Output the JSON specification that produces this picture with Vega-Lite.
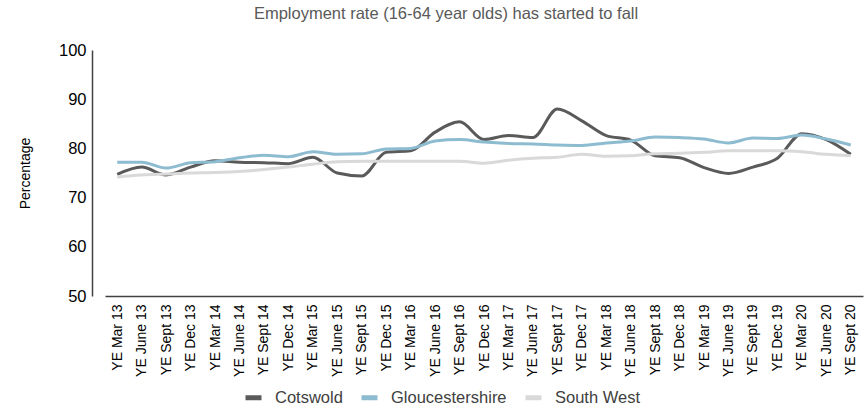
{
  "$schema": "https://vega.github.io/schema/vega-lite/v6.json",
  "autosize": {"type": "none"},
  "padding": {"left": 92, "top": 50, "right": 0, "bottom": 111},
  "width": 776,
  "height": 246,
  "background": "white",
  "title": {
    "text": "Employment rate (16-64 year olds) has started to fall",
    "font": "Liberation Sans",
    "fontSize": 16.5,
    "fontWeight": "normal",
    "color": "#595959",
    "anchor": "middle",
    "dx": -34,
    "offset": 20
  },
  "data": {
    "values": [
      {"period": "YE Mar 13", "Cotswold": 74.7, "Gloucestershire": 77.2, "South West": 74.2},
      {"period": "YE June 13", "Cotswold": 76.2, "Gloucestershire": 77.2, "South West": 74.6},
      {"period": "YE Sept 13", "Cotswold": 74.6, "Gloucestershire": 76.0, "South West": 74.8},
      {"period": "YE Dec 13", "Cotswold": 76.2, "Gloucestershire": 77.1, "South West": 75.0},
      {"period": "YE Mar 14", "Cotswold": 77.5, "Gloucestershire": 77.3, "South West": 75.1},
      {"period": "YE June 14", "Cotswold": 77.2, "Gloucestershire": 78.1, "South West": 75.3},
      {"period": "YE Sept 14", "Cotswold": 77.1, "Gloucestershire": 78.6, "South West": 75.7},
      {"period": "YE Dec 14", "Cotswold": 76.9, "Gloucestershire": 78.3, "South West": 76.2},
      {"period": "YE Mar 15", "Cotswold": 78.2, "Gloucestershire": 79.3, "South West": 76.8},
      {"period": "YE June 15", "Cotswold": 75.0, "Gloucestershire": 78.8, "South West": 77.3},
      {"period": "YE Sept 15", "Cotswold": 74.4, "Gloucestershire": 78.9, "South West": 77.4},
      {"period": "YE Dec 15", "Cotswold": 79.2, "Gloucestershire": 79.9, "South West": 77.4},
      {"period": "YE Mar 16", "Cotswold": 79.5, "Gloucestershire": 80.0, "South West": 77.4},
      {"period": "YE June 16", "Cotswold": 83.3, "Gloucestershire": 81.5, "South West": 77.4},
      {"period": "YE Sept 16", "Cotswold": 85.4, "Gloucestershire": 81.8, "South West": 77.4},
      {"period": "YE Dec 16", "Cotswold": 81.8, "Gloucestershire": 81.3, "South West": 77.0},
      {"period": "YE Mar 17", "Cotswold": 82.6, "Gloucestershire": 81.0, "South West": 77.6},
      {"period": "YE June 17", "Cotswold": 82.2, "Gloucestershire": 80.9, "South West": 78.0},
      {"period": "YE Sept 17", "Cotswold": 88.0, "Gloucestershire": 80.7, "South West": 78.2},
      {"period": "YE Dec 17", "Cotswold": 85.6, "Gloucestershire": 80.6, "South West": 78.8},
      {"period": "YE Mar 18", "Cotswold": 82.6, "Gloucestershire": 81.1, "South West": 78.4},
      {"period": "YE June 18", "Cotswold": 81.7, "Gloucestershire": 81.5, "South West": 78.5},
      {"period": "YE Sept 18", "Cotswold": 78.5, "Gloucestershire": 82.3, "South West": 78.9},
      {"period": "YE Dec 18", "Cotswold": 78.1, "Gloucestershire": 82.2, "South West": 79.0},
      {"period": "YE Mar 19", "Cotswold": 76.1, "Gloucestershire": 81.9, "South West": 79.2},
      {"period": "YE June 19", "Cotswold": 74.9, "Gloucestershire": 81.1, "South West": 79.5},
      {"period": "YE Sept 19", "Cotswold": 76.2, "Gloucestershire": 82.1, "South West": 79.5},
      {"period": "YE Dec 19", "Cotswold": 78.0, "Gloucestershire": 82.0, "South West": 79.5},
      {"period": "YE Mar 20", "Cotswold": 83.0, "Gloucestershire": 82.7, "South West": 79.3},
      {"period": "YE June 20", "Cotswold": 81.8, "Gloucestershire": 81.9, "South West": 78.8},
      {"period": "YE Sept 20", "Cotswold": 78.8, "Gloucestershire": 80.7, "South West": 78.5}
    ]
  },
  "transform": [
    {"fold": ["Cotswold", "Gloucestershire", "South West"], "as": ["area", "rate"]}
  ],
  "mark": {"type": "line", "interpolate": "monotone", "strokeWidth": 3},
  "encoding": {
    "x": {
      "field": "period",
      "type": "nominal",
      "sort": null,
      "scale": {"type": "point", "range": [13, 771]},
      "axis": {
        "title": null,
        "labelAngle": -90,
        "labelFont": "Liberation Sans",
        "labelFontSize": 14,
        "labelColor": "#000000",
        "labelPadding": 8,
        "ticks": false,
        "domainColor": "#404040",
        "domainWidth": 1.5,
        "grid": false
      }
    },
    "y": {
      "field": "rate",
      "type": "quantitative",
      "scale": {"domain": [50, 100], "nice": false, "zero": false},
      "axis": {
        "title": "Percentage",
        "titleFont": "Liberation Sans",
        "titleFontSize": 14,
        "titleFontWeight": "normal",
        "titleColor": "#000000",
        "titlePadding": 26,
        "values": [50, 60, 70, 80, 90, 100],
        "labelFont": "Liberation Sans",
        "labelFontSize": 16.5,
        "labelColor": "#000000",
        "labelPadding": 6,
        "ticks": false,
        "grid": false,
        "domainColor": "#404040",
        "domainWidth": 1.5
      }
    },
    "color": {
      "field": "area",
      "type": "nominal",
      "scale": {
        "domain": ["Cotswold", "Gloucestershire", "South West"],
        "range": ["#5a5a5a", "#8dbbcf", "#d9d9d9"]
      },
      "legend": {
        "title": null,
        "orient": "none",
        "legendX": 151,
        "legendY": 337,
        "direction": "horizontal",
        "columns": 3,
        "columnPadding": 8,
        "symbolType": "stroke",
        "symbolSize": 256,
        "symbolStrokeWidth": 5,
        "labelFont": "Liberation Sans",
        "labelFontSize": 16.5,
        "labelColor": "#404040",
        "labelOffset": 11,
        "padding": 0
      }
    }
  },
  "config": {"view": {"stroke": null}}
}
